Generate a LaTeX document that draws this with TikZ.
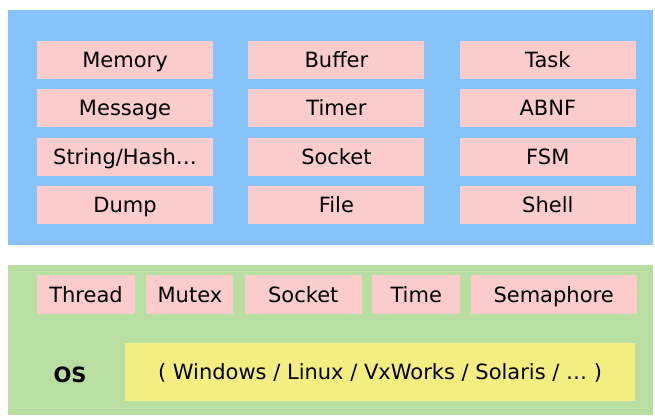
\documentclass[tikz,border=0pt]{standalone}
\usepackage{fontspec}
\setmainfont{DejaVu Sans}
\usetikzlibrary{positioning}
\definecolor{panelblue}{HTML}{85C3FA}
\definecolor{panelgreen}{HTML}{B9DEA2}
\definecolor{modpink}{HTML}{FACCCC}
\definecolor{osyellow}{HTML}{F4EE82}

\begin{document}
\begin{tikzpicture}[x=1pt,y=-1pt,
                module/.style={fill=modpink, minimum width=176pt, minimum height=38pt,
                               inner sep=0pt, text height=15pt, text depth=0pt,
                               font=\fontsize{21}{24}\selectfont},
                prim/.style={module, minimum height=39pt},
                node distance=10pt and 35pt]
                \useasboundingbox (0,0) rectangle (655,415);

                % The two layers
                \fill[panelblue]  (8,10)  rectangle (653,245);
                \fill[panelgreen] (8,265) rectangle (653,415);

                % Upper layer: the library modules
                \node[module] (mem)  at (125,60)      {Memory};
                \node[module] (msg)  [below=of mem]   {Message};
                \node[module] (str)  [below=of msg]   {String/Hash\ldots};
                \node[module] (dump) [below=of str]   {Dump};

                \node[module] (buf)  [right=of mem]   {Buffer};
                \node[module] (tmr)  [below=of buf]   {Timer};
                \node[module] (sock) [below=of tmr]   {Socket};
                \node[module] (file) [below=of sock]  {File};

                \node[module] (task) [right=of buf]   {Task};
                \node[module] (abnf) [below=of task]  {ABNF};
                \node[module] (fsm)  [below=of abnf]  {FSM};
                \node[module] (shl)  [below=of fsm]   {Shell};

                % Lower layer: the OS primitives
                \node[prim, minimum width=98pt]  (thr) at (86,294.5)    {Thread};
                \node[prim, minimum width=87pt]  (mtx) [right=11pt of thr] {Mutex};
                \node[prim, minimum width=117pt] (osk) [right=11pt of mtx] {Socket};
                \node[prim, minimum width=88pt]  (tim) [right=10pt of osk] {Time};
                \node[prim, minimum width=166pt] (sem) [right=10pt of tim] {Semaphore};

                \node[prim, fill=osyellow, minimum width=510pt, minimum height=58pt]
                    (plat) at (380,372) {( Windows / Linux / VxWorks / Solaris / \ldots\ )};
                \node[font=\fontsize{21}{24}\selectfont\bfseries] (os) at (70,375) {OS};

            \end{tikzpicture}
\end{document}
